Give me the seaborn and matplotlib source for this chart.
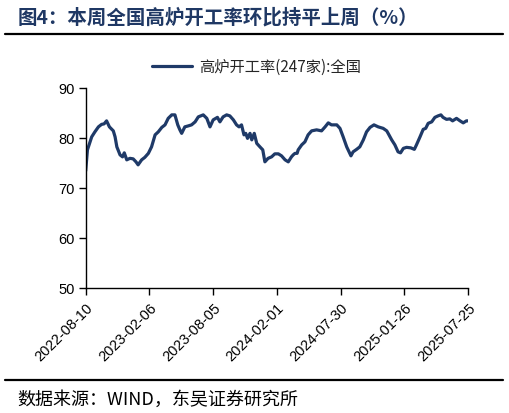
import numpy as np
import pandas as pd
import matplotlib
matplotlib.use("Agg")
import matplotlib.pyplot as plt
import seaborn as sns
from matplotlib.lines import Line2D

sns.set_theme(style="white")
plt.rcParams['font.family'] = ['Liberation Sans', 'Noto Sans CJK SC', 'DejaVu Sans']

# ---- data ----
start_date = "2022-08-10"
day_offsets = [0, 5, 17, 26, 36, 45, 52, 59, 67, 78, 83, 88, 97, 104, 109, 116, 125, 134,
               142, 148, 158, 167, 177, 186, 196, 205, 215, 224, 233, 243, 252, 260, 266,
               271, 280, 290, 299, 309, 318, 332, 342, 351, 360, 372, 379, 388, 398, 407,
               417, 426, 433, 440, 447, 452, 457, 464, 469, 476, 483, 492, 500, 506, 515,
               525, 534, 544, 553, 563, 572, 581, 586, 591, 597, 600, 610, 619, 628, 638,
               652, 666, 676, 685, 694, 709, 718, 727, 737, 749, 755, 765, 774, 784, 793,
               803, 814, 826, 840, 850, 854, 864, 873, 882, 889, 897, 906, 918, 928, 934,
               944, 953, 960, 967, 977, 986, 995, 1003, 1009, 1019, 1028, 1036, 1047, 1057,
               1066, 1075, 1080]
rate = [73.5, 77.7, 80.3, 81.3, 82.3, 82.8, 82.9, 83.5, 82.3, 81.5, 80.3, 78.3, 76.7, 76.3,
        77.1, 75.7, 76.0, 75.9, 75.3, 74.7, 75.7, 76.2, 77.0, 78.3, 80.7, 81.3, 82.2, 82.7,
        84.0, 84.7, 84.7, 82.7, 81.7, 81.0, 82.3, 82.5, 82.7, 83.3, 84.3, 84.7, 84.0, 82.3,
        83.7, 84.2, 83.3, 84.3, 84.7, 84.5, 83.7, 82.7, 82.3, 82.7, 80.7, 81.0, 80.0, 81.0,
        79.7, 81.0, 79.0, 78.3, 77.7, 75.3, 76.0, 76.3, 76.9, 76.9, 76.5, 75.7, 75.3, 76.3,
        76.7, 77.0, 77.0, 77.7, 78.7, 79.3, 80.7, 81.5, 81.7, 81.5, 82.3, 83.1, 82.7, 82.7,
        82.0, 80.3, 78.3, 76.5, 77.3, 77.8, 78.3, 79.7, 81.3, 82.2, 82.7, 82.3, 82.0, 81.5,
        81.0, 79.7, 78.7, 77.3, 77.1, 78.0, 78.2, 78.1, 77.8, 78.7, 80.3, 81.8, 82.0, 83.0,
        83.3, 84.2, 84.5, 84.7, 84.2, 83.8, 83.9, 83.5, 84.0, 83.5, 83.1, 83.5, 83.5]
tick_labels = ["2022-08-10", "2023-02-06", "2023-08-05", "2024-02-01",
               "2024-07-30", "2025-01-26", "2025-07-25"]
y_ticks = [50, 60, 70, 80, 90]
series_name = "高炉开工率(247家):全国"
title_text = "图4：本周全国高炉开工率环比持平上周（%）"
source_text = "数据来源：WIND，东吴证券研究所"

df = pd.DataFrame({
    "date": pd.Timestamp(start_date) + pd.to_timedelta(day_offsets, unit="D"),
    "rate": rate,
})

line_color = "#1F3A68"
navy = "#1F3864"

fig = plt.figure(figsize=(5.10, 4.13), dpi=100)
ax = fig.add_axes([0.168, 0.302, 0.750, 0.484])

sns.lineplot(data=df, x="date", y="rate", ax=ax, color=line_color, linewidth=2.3,
             legend=False)

ticks = pd.to_datetime(tick_labels)
ax.set_xlim(ticks[0], ticks[-1])
ax.set_xticks(ticks)
ax.set_xticklabels(tick_labels, rotation=45, ha="right", rotation_mode="anchor",
                   fontsize=10.5, color="black")
ax.set_ylim(50, 90)
ax.set_yticks(y_ticks)
ax.set_yticklabels([str(v) for v in y_ticks], fontsize=10.5, color="black")
ax.set_xlabel("")
ax.set_ylabel("")
ax.grid(False)
for s in ["top", "right"]:
    ax.spines[s].set_visible(False)
for s in ["left", "bottom"]:
    ax.spines[s].set_color("black")
    ax.spines[s].set_linewidth(1.0)
ax.tick_params(axis="both", which="both", direction="out", length=5, width=1,
               color="black", bottom=True, left=True, pad=3)
ax.tick_params(axis="x", pad=4)

# legend
handle = Line2D([0], [0], color=line_color, linewidth=2.3)
fig.legend([handle], [series_name], loc="center", bbox_to_anchor=(0.503, 0.838),
           frameon=False, handlelength=2.6, handletextpad=0.5,
           prop={"family": ["Noto Sans CJK SC", "DejaVu Sans"], "size": 11})

# title and rules
fig.text(0.035, 0.958, title_text, ha="left", va="center", fontsize=14,
         fontweight="bold", color=navy, family=["Noto Sans CJK SC", "DejaVu Sans"])
fig.add_artist(Line2D([0.01, 0.987], [0.918, 0.918], color="black", linewidth=1.6,
                      transform=fig.transFigure))
fig.add_artist(Line2D([0.01, 0.987], [0.081, 0.081], color="black", linewidth=1.6,
                      transform=fig.transFigure))
fig.text(0.033, 0.032, source_text, ha="left", va="center", fontsize=13,
         color="black", family=["Noto Sans CJK SC", "DejaVu Sans"])

fig.savefig("out.png", dpi=100)
